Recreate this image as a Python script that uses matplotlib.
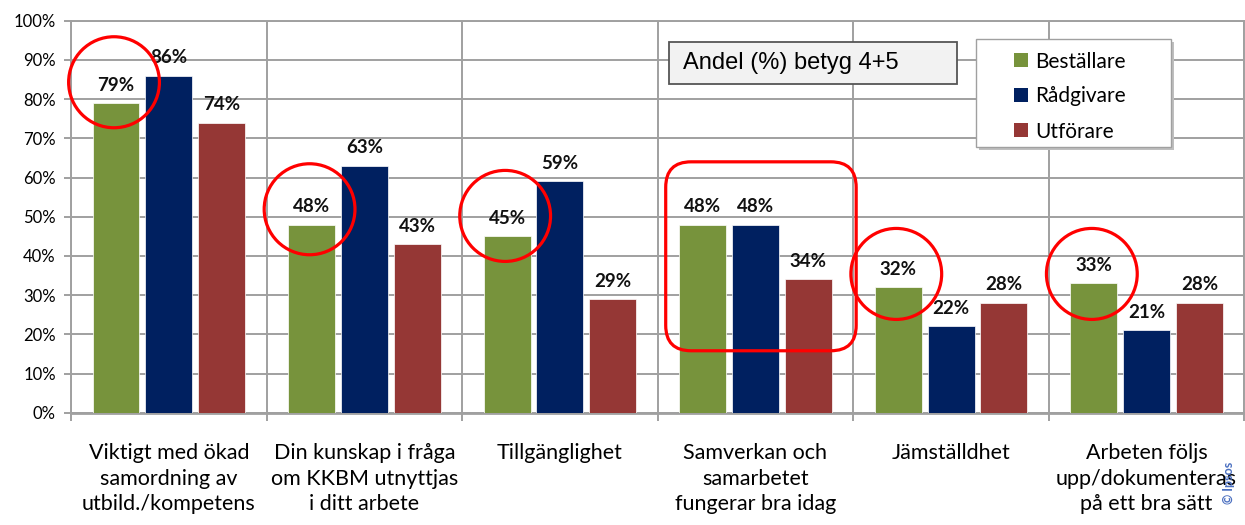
import numpy as np
import matplotlib
matplotlib.use("Agg")
import matplotlib.pyplot as plt
from matplotlib.patches import Ellipse, FancyBboxPatch, Rectangle, Patch

categories = ["Viktigt med ökad\nsamordning av\nutbild./kompetens",
              "Din kunskap i fråga\nom KKBM utnyttjas\ni ditt arbete",
              "Tillgänglighet",
              "Samverkan och\nsamarbetet\nfungerar bra idag",
              "Jämställdhet",
              "Arbeten följs\nupp/dokumenteras\npå ett bra sätt"]
bestallare = [79, 48, 45, 48, 32, 33]
radgivare = [86, 63, 59, 48, 22, 21]
utforare = [74, 43, 29, 34, 28, 28]
series_names = ["Beställare", "Rådgivare", "Utförare"]
colors = ["#77933c", "#002060", "#953735"]

# red hand-drawn highlights (circle centre height in %, None = box instead)
circle_y = [84.3, 51.9, 50.2, None, 35.4, 35.4]

plt.rcParams['font.family'] = ['Lato', 'DejaVu Sans']

fig = plt.figure(figsize=(12.45, 5.25), dpi=100)
ax = fig.add_axes([71 / 1245, 1 - 412.7 / 525, 1 - 71 / 1245 - 0.0005, (412.7 - 20.7) / 525])

x = np.arange(len(categories))
w = 0.24
step = 0.27
for k, vals in enumerate([bestallare, radgivare, utforare]):
    xs = x + (k - 1) * step
    ax.bar(xs, vals, width=w, color=colors[k], edgecolor="white", linewidth=0.5, zorder=3)
    for xi, v in zip(xs, vals):
        ax.annotate(f"{v}%", (xi, v), xytext=(0, 9), textcoords="offset points",
                    ha="center", va="baseline", fontsize=13.5, fontweight="bold",
                    color="#111111", zorder=5)

ax.set_xlim(-0.5, len(categories) - 0.5)
ax.set_ylim(0, 100)
ax.set_yticks(np.arange(0, 101, 10))
ax.set_yticklabels([f"{t}%" for t in range(0, 101, 10)], fontsize=12)
ax.set_xticks(x)
ax.set_xticklabels(categories, fontsize=15.5, linespacing=1.35)
ax.set_xticks(np.arange(-0.5, len(categories), 1), minor=True)
ax.tick_params(axis="x", which="major", length=0, pad=22)
ax.tick_params(axis="x", which="minor", length=6, width=1.4, color="#a0a0a0")
ax.tick_params(axis="y", length=5, width=1.4, color="#a0a0a0", pad=6)
ax.grid(axis="y", color="#a0a0a0", linewidth=1.4, zorder=0)
ax.grid(axis="x", which="minor", color="#a0a0a0", linewidth=1.4, zorder=0)
for s in ax.spines.values():
    s.set_color("#a0a0a0")
    s.set_linewidth(1.4)
ax.spines["bottom"].set_linewidth(2)

# red circles / box
px_x = 1 / 196.0
for i, cy in enumerate(circle_y):
    if cy is None:
        continue
    e = Ellipse((x[i] - step - 0.01, cy), 91 * px_x, 91 / 3.92, fill=False,
                edgecolor="#ff0000", linewidth=2.3, zorder=6, clip_on=False)
    ax.add_patch(e)
rb = FancyBboxPatch((3 - 0.459 + 0.13, 15.8 + 0.13 * 50), 0.974 - 0.26, 48.2 - 0.26 * 50,
                    boxstyle="round,pad=0.13", mutation_aspect=50,
                    fill=False, edgecolor="#ff0000", linewidth=2.3, zorder=6)
ax.add_patch(rb)

# title box
tf = fig.transFigure
fig.patches.append(Rectangle((669 / 1245, 1 - 84 / 525), (957 - 669) / 1245, 42.3 / 525,
                             transform=tf, facecolor="#f2f2f2", edgecolor="#555555",
                             linewidth=1.3, zorder=10))
fig.text(683 / 1245, 1 - 63 / 525, "Andel (%) betyg 4+5", fontsize=17,
         family="Liberation Sans", va="center", ha="left", zorder=11)

# legend box with shadow
fig.patches.append(Rectangle((978.6 / 1245, 1 - 149.7 / 525), 195 / 1245, 107.4 / 525,
                             transform=tf, facecolor="#bfbfbf", edgecolor="none", zorder=9))
fig.patches.append(Rectangle((975.6 / 1245, 1 - 146.7 / 525), 195 / 1245, 107.4 / 525,
                             transform=tf, facecolor="white", edgecolor="#a0a0a0",
                             linewidth=1, zorder=10))
handles = [Patch(facecolor=c) for c in colors]
leg = fig.legend(handles, series_names, loc="upper left", frameon=False,
                 bbox_to_anchor=(1014 / 1245, 1 - 51.5 / 525), bbox_transform=tf,
                 fontsize=15, handlelength=0.65, handleheight=0.65,
                 handletextpad=0.36, labelspacing=0.72, borderpad=0, borderaxespad=0)
leg.set_zorder(12)

fig.text(1228.5 / 1245, 1 - 483 / 525, "© Ipsos", rotation=90, fontsize=9,
         color="#4a6fc0", ha="center", va="center", fontweight="bold")

fig.savefig("out.png", dpi=100)
